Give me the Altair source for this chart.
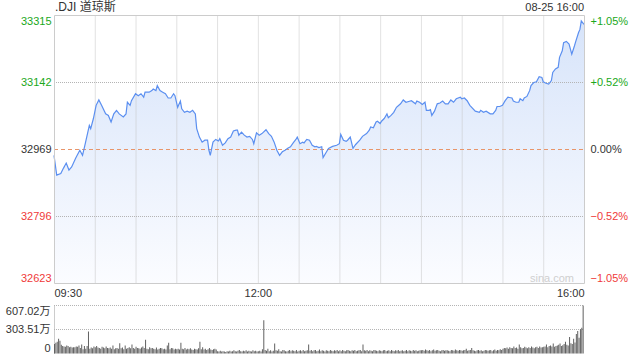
import altair as alt
import pandas as pd

# ---- data ----
minutes = [
    0, 2, 5, 7, 9, 11, 13, 16, 19, 21,
    23, 26, 27, 29, 31, 33, 35, 38, 40, 42,
    44, 46, 48, 51, 53, 54, 56, 57, 60, 62,
    64, 66, 67, 70, 72, 73, 75, 76, 78, 80,
    82, 84, 86, 88, 89, 91, 93, 94, 96, 98,
    100, 102, 104, 105, 107, 109, 111, 113, 114, 115,
    117, 119, 121, 122, 124, 126, 128, 130, 132, 134,
    135, 136, 138, 140, 142, 144, 146, 147, 149, 151,
    153, 156, 158, 160, 162, 164, 166, 168, 170, 172,
    174, 176, 178, 179, 181, 183, 184, 186, 188, 190,
    192, 193, 195, 197, 198, 200, 202, 205, 208, 210,
    211, 213, 215, 216, 218, 220, 222, 225, 227, 230,
    232, 233, 235, 237, 238, 240, 241, 243, 245, 246,
    248, 250, 252, 255, 257, 259, 261, 263, 266, 267,
    269, 271, 273, 274, 276, 277, 278, 280, 282, 284,
    286, 288, 290, 292, 294, 296, 299, 300, 302, 304,
    306, 310, 313, 314, 316, 318, 321, 323, 325, 326,
    328, 330, 332, 334, 337, 338, 340, 342, 343, 345,
    346, 348, 350, 351, 353, 355, 357, 359, 360, 362,
    364, 366, 367, 369, 371, 372, 374, 375, 377, 379,
    381, 383, 384, 386, 387, 388, 390,
]
prices = [
    32954, 32903, 32907, 32921, 32934, 32916, 32924, 32947, 32967, 32954,
    32984, 33031, 33023, 33049, 33083, 33097, 33083, 33061, 33057, 33040,
    33061, 33070, 33061, 33053, 33061, 33091, 33083, 33095, 33113, 33108,
    33113, 33104, 33117, 33117, 33121, 33125, 33121, 33134, 33121, 33117,
    33113, 33102, 33102, 33113, 33108, 33078, 33094, 33074, 33065, 33068,
    33065, 33070, 33061, 33023, 33001, 32988, 32993, 32993, 32967, 32954,
    32988, 32995, 32991, 32997, 32980, 32986, 32997, 33001, 33017, 33019,
    33019, 33006, 33014, 33006, 33001, 33003, 32995, 32984, 33012, 33006,
    33010, 33020, 33010, 33003, 32988, 32967, 32954, 32963, 32967, 32972,
    32976, 32986, 32995, 33001, 32984, 32988, 32986, 32995, 32993, 32980,
    32976, 32977, 32974, 32976, 32948, 32960, 32972, 32977, 32980, 32984,
    33008, 32993, 32990, 32993, 33001, 32972, 32982, 32993, 33003, 33010,
    33019, 33027, 33025, 33040, 33042, 33036, 33042, 33049, 33061, 33051,
    33057, 33065, 33078, 33087, 33097, 33091, 33093, 33095, 33087, 33094,
    33091, 33085, 33091, 33070, 33070, 33072, 33057, 33068, 33087, 33089,
    33094, 33087, 33087, 33097, 33091, 33100, 33104, 33100, 33102, 33095,
    33083, 33068, 33065, 33070, 33065, 33068, 33061, 33061, 33070, 33080,
    33080, 33083, 33095, 33104, 33102, 33094, 33091, 33091, 33100, 33095,
    33102, 33106, 33121, 33134, 33142, 33144, 33157, 33155, 33144, 33140,
    33138, 33147, 33168, 33177, 33181, 33207, 33224, 33245, 33248, 33241,
    33215, 33237, 33249, 33271, 33279, 33301, 33292,
]
# volume per minute (unit: 万), 13 rows of 30 minutes
volumes = [
    120, 135, 150, 185, 160, 110, 95, 90, 85, 100, 95, 80, 85, 75, 80, 80, 90, 85, 100, 70, 115, 55, 95, 60, 95, 278, 60, 75, 65, 90,
    80, 95, 75, 70, 60, 85, 75, 65, 90, 70, 65, 75, 60, 100, 55, 65, 70, 60, 130, 65, 75, 55, 100, 60, 70, 80, 65, 115, 70, 60,
    85, 70, 65, 60, 75, 90, 70, 175, 60, 55, 80, 65, 70, 60, 55, 75, 50, 60, 70, 65, 55, 60, 50, 100, 135, 55, 70, 65, 50, 60,
    55, 60, 50, 135, 60, 55, 70, 50, 60, 55, 65, 50, 45, 60, 55, 50, 65, 148, 55, 80, 50, 60, 45, 55, 70, 50, 45, 55, 60, 50,
    30, 25, 35, 25, 30, 25, 20, 30, 25, 35, 25, 30, 40, 30, 25, 35, 45, 30, 25, 35, 30, 40, 25, 35, 30, 25, 40, 30, 35, 25,
    30, 35, 25, 55, 420, 45, 35, 60, 30, 40, 25, 35, 125, 40, 35, 55, 30, 25, 45, 40, 30, 25, 35, 45, 30, 40, 35, 30, 45, 25,
    35, 40, 30, 45, 30, 35, 40, 115, 35, 45, 30, 40, 45, 30, 35, 50, 30, 40, 35, 25, 40, 35, 30, 45, 35, 30, 40, 35, 45, 30,
    40, 30, 45, 35, 30, 40, 45, 35, 30, 40, 35, 45, 30, 35, 40, 45, 30, 115, 40, 35, 45, 30, 40, 35, 30, 45, 40, 35, 30, 40,
    35, 30, 40, 45, 30, 35, 40, 30, 45, 35, 30, 40, 35, 45, 30, 35, 40, 30, 35, 45, 30, 40, 35, 30, 45, 35, 40, 30, 35, 40,
    40, 45, 35, 50, 40, 35, 45, 30, 40, 50, 35, 40, 45, 35, 30, 40, 45, 35, 40, 40, 35, 30, 45, 40, 35, 50, 40, 35, 45, 40,
    35, 40, 45, 60, 35, 40, 45, 70, 40, 35, 30, 40, 45, 35, 40, 30, 35, 45, 40, 35, 40, 45, 30, 40, 50, 35, 45, 40, 55, 45,
    60, 70, 65, 75, 60, 80, 70, 65, 90, 70, 75, 60, 115, 80, 65, 70, 85, 75, 65, 80, 70, 90, 75, 65, 80, 85, 70, 90, 75, 80,
    85, 90, 115, 80, 95, 100, 90, 125, 85, 95, 100, 110, 125, 95, 105, 120, 148, 110, 100, 209, 130, 120, 188, 140, 246, 283, 200, 308, 327, 607,
]
vol_minutes = list(range(len(volumes)))

prev_close = 32969
price_ticks = [32623, 32796, 32969, 33142, 33315]
price_grid = [32796, 33142]
vol_ticks = [0, 303.51, 607.02]
time_grid = [30, 60, 90, 120, 150, 180, 210, 240, 270, 300, 330, 360]
time_ticks = [0, 150, 390]
time_labels = ["09:30", "12:00", "16:00"]
title_text = ".DJI 道琼斯"
date_text = "08-25 16:00"
watermark = "sina.com"

# ---- styling ----
FONT = "Liberation Sans, Arial, Noto Sans CJK SC"
GREEN = "#1aa81a"
RED = "#f03a3a"
DARK = "#333333"
VGRID = "#c4c4c4"
HGRID = "#b4b4b4"
W, H = 530, 340
TOP = 15
PH = 268          # price panel height (4 x 67 px)

price_df = pd.DataFrame({"t": minutes, "price": prices})
vol_df = pd.DataFrame({"t": vol_minutes, "vol": volumes})
one = pd.DataFrame({"a": [0]})

xs = alt.Scale(domain=[0, 390], range=[0, W], nice=False, zero=False)
ys = alt.Scale(domain=[price_ticks[0], price_ticks[-1]], range=[PH + 0.5, 0.5], nice=False, zero=False)
vs = alt.Scale(domain=[0, vol_ticks[-1]], range=[338.5, 290.5], nice=False, zero=False)

label_expr_x = " : ".join(
    f"datum.value == {v} ? '{l}'" for v, l in zip(time_ticks[:-1], time_labels[:-1])
) + f" : '{time_labels[-1]}'"

x_axis = alt.Axis(
    orient="bottom", offset=-(H - PH), values=time_ticks, labelExpr=label_expr_x,
    labelFlush=True, ticks=False, domain=False, grid=False, labelPadding=4,
    labelFont=FONT, labelFontSize=11, labelColor=DARK, title=None,
)

color_cond = {"condition": [
    {"test": f"datum.value > {prev_close}", "value": GREEN},
    {"test": f"datum.value < {prev_close}", "value": RED},
], "value": DARK}

price_axis = alt.Axis(
    orient="left", values=price_ticks, labelFlush=True, ticks=False, domain=False,
    grid=False, labelPadding=3, labelFont=FONT, labelFontSize=11, format="d",
    labelColor=color_cond, title=None,
)

pct_axis = alt.Axis(
    orient="right", values=price_ticks, labelFlush=True, ticks=False, domain=False,
    grid=False, labelPadding=6, labelFont=FONT, labelFontSize=11,
    labelExpr=(f"datum.value == {prev_close} ? '0.00%' : "
               f"(datum.value > {prev_close} ? '+' : '') + "
               f"format((datum.value / {prev_close} - 1) * 100, '.2f') + '%'"),
    labelColor=color_cond, title=None,
)

vol_axis = alt.Axis(
    orient="left", values=vol_ticks, labelFlush=True, ticks=False, domain=True,
    domainColor="#cccccc", grid=False, labelPadding=4, labelFont=FONT, labelFontSize=11,
    labelColor=DARK,
    labelExpr="datum.value == 0 ? '0' : format(datum.value, '.2f') + '万'",
    title=None,
)

X = lambda f: alt.X(f, scale=xs, axis=x_axis)

area = alt.Chart(price_df).mark_area(
    color=alt.Gradient(
        gradient="linear",
        stops=[alt.GradientStop(color="#fbfcff", offset=0),
               alt.GradientStop(color="#d7e4fa", offset=1)],
        x1=1, x2=1, y1=1, y2=0,
    )
).encode(
    x=X("t:Q"),
    y=alt.Y("price:Q", scale=ys, axis=price_axis),
    y2=alt.datum(price_ticks[0]),
)

vgrid = alt.Chart(pd.DataFrame({"t": time_grid, "p": [price_ticks[0]] * len(time_grid),
                                "p2": [price_ticks[-1]] * len(time_grid)})).mark_rule(
    color=VGRID, strokeDash=[1, 1], strokeWidth=1, xOffset=0.5
).encode(
    x=X("t:Q"),
    y=alt.Y("p:Q", scale=ys, axis=None),
    y2="p2:Q",
)

hgrid = alt.Chart(pd.DataFrame({"g": price_grid, "t0": [0] * len(price_grid),
                                "t1": [390] * len(price_grid)})).mark_rule(
    color=HGRID, strokeDash=[1, 1], strokeWidth=1
).encode(
    x=X("t0:Q"), x2="t1:Q",
    y=alt.Y("g:Q", scale=ys, axis=None),
)

zero_line = alt.Chart(pd.DataFrame({"z": [prev_close], "t0": [0], "t1": [390]})).mark_rule(
    color="#e8956a", strokeDash=[4, 3], strokeWidth=1
).encode(
    x=X("t0:Q"), x2="t1:Q",
    y=alt.Y("z:Q", scale=ys, axis=None),
)

line = alt.Chart(price_df).mark_line(color="#5b8ff0", strokeWidth=1.2).encode(
    x=X("t:Q"),
    y=alt.Y("price:Q", scale=ys, axis=None),
)

frame = alt.Chart(pd.DataFrame({"t": [0], "t2": [390], "p": [price_ticks[0]], "p2": [price_ticks[-1]]})).mark_rect(
    fill=None, fillOpacity=0, stroke="#cccccc", strokeWidth=1, xOffset=0.5, x2Offset=0.5
).encode(
    x=X("t:Q"), x2="t2:Q",
    y=alt.Y("p:Q", scale=ys, axis=None), y2="p2:Q",
)

pct_layer = alt.Chart(pd.DataFrame({"p": price_ticks})).mark_rule(opacity=0).encode(
    y=alt.Y("p:Q", scale=ys, axis=pct_axis)
)

vol_grid = alt.Chart(pd.DataFrame({"v": vol_ticks[1:], "t0": [0, 0], "t1": [390, 390]})).mark_rule(
    color=HGRID, strokeDash=[1, 1], strokeWidth=1
).encode(
    x=X("t0:Q"), x2="t1:Q",
    y=alt.Y("v:Q", scale=vs, axis=None),
)

bars = alt.Chart(vol_df).transform_calculate(t2="datum.t + 0.75").mark_bar(
    color="#636363"
).encode(
    x=X("t:Q"), x2="t2:Q",
    y=alt.Y("vol:Q", scale=vs, axis=vol_axis),
    y2=alt.datum(0),
)

title_mark = alt.Chart(one).mark_text(
    text=title_text, font=FONT, fontSize=12, color=DARK, align="left", baseline="alphabetic"
).encode(x=alt.value(1), y=alt.value(-4))

date_mark = alt.Chart(one).mark_text(
    text=date_text, font=FONT, fontSize=11, color=DARK, align="right", baseline="alphabetic"
).encode(x=alt.value(W), y=alt.value(-4))

wm_mark = alt.Chart(one).mark_text(
    text=watermark, font=FONT, fontSize=11, color="#cfcfcf", align="center", baseline="middle"
).encode(x=alt.value(498), y=alt.value(264))

chart = alt.layer(
    area, vgrid, hgrid, zero_line, line, frame, pct_layer, vol_grid, bars,
    title_mark, date_mark, wm_mark,
).resolve_scale(y="independent").properties(
    width=W, height=H,
    autosize=alt.AutoSizeParams(type="none"),
    padding={"left": 54, "top": TOP, "right": 640 - 54 - W, "bottom": 360 - TOP - H},
    background="white",
).configure_view(strokeWidth=0)

chart.save("out.html", embed_options={"renderer": "svg", "actions": False})
